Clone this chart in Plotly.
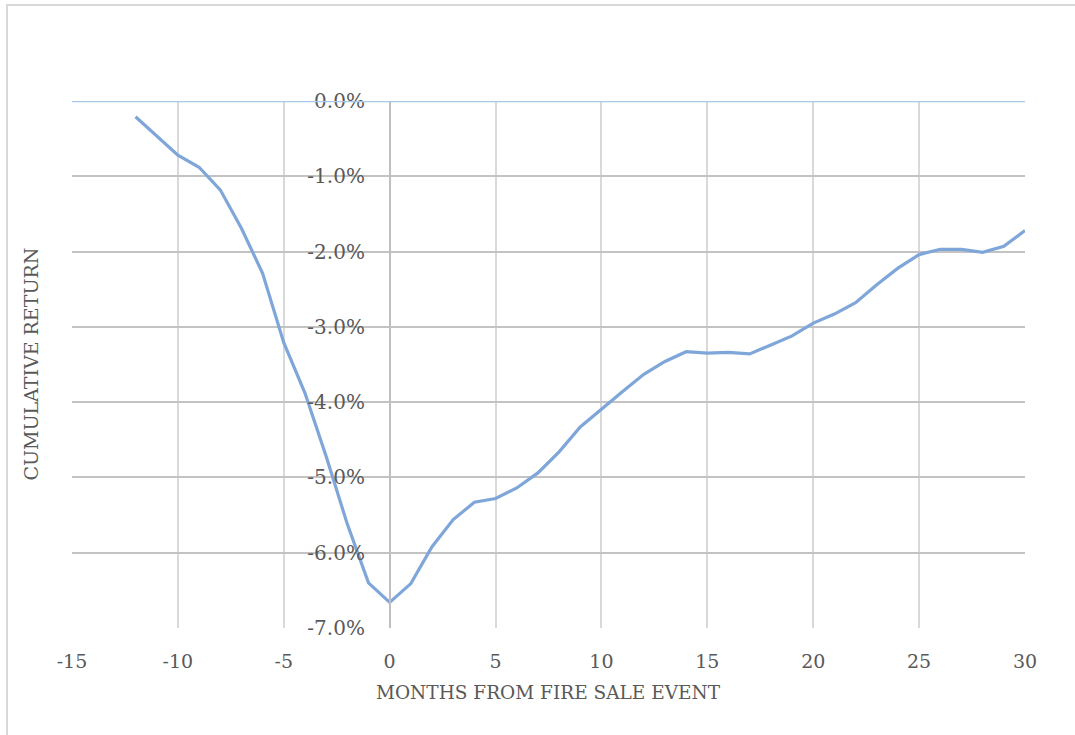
import plotly.graph_objects as go

months = list(range(-12, 31))
cum_return = [
    -0.21, -0.47, -0.72, -0.88, -1.18, -1.69, -2.29, -3.21, -3.88, -4.72, -5.62, -6.40,
    -6.66,
    -6.41, -5.92, -5.56, -5.33, -5.28, -5.14, -4.94, -4.66, -4.33, -4.09, -3.86, -3.63,
    -3.46, -3.33, -3.35, -3.34, -3.36, -3.24, -3.12, -2.95, -2.83, -2.68, -2.44, -2.22,
    -2.04, -1.97, -1.97, -2.01, -1.93, -1.72,
]
cum_return = [v / 100 for v in cum_return]

x_ticks = list(range(-15, 31, 5))
y_ticks = [-0.07, -0.06, -0.05, -0.04, -0.03, -0.02, -0.01, 0.0]
y_ticktext = [f"{v * 100:.1f}%".replace("-0.0", "0.0") for v in y_ticks]

FONT = "DejaVu Serif"
TXT = "#595959"

fig = go.Figure()
fig.add_trace(go.Scatter(
    x=months, y=cum_return, mode="lines",
    line=dict(color="#7FA6D9", width=3.2),
    showlegend=False, hoverinfo="skip",
))

x0, x1 = -15, 30
fig.update_layout(
    width=1075, height=735,
    margin=dict(l=72, r=50, t=101, b=107),
    paper_bgcolor="white", plot_bgcolor="white",
    font=dict(family=FONT, color=TXT, size=19),
    xaxis=dict(
        range=[x0, x1], tickvals=x_ticks, ticktext=[str(v) for v in x_ticks],
        showgrid=True, gridcolor="#D9D9D9", gridwidth=1.5,
        zeroline=False, showline=False, ticks="",
        tickfont=dict(family=FONT, size=19, color=TXT),
        ticklabelstandoff=20,
    ),
    yaxis=dict(
        range=[-0.07, 0.0], tickvals=y_ticks, ticktext=y_ticktext,
        showgrid=True, gridcolor="#C3C3C3", gridwidth=1.5,
        zeroline=False, showline=True, linecolor="#BFBFBF", linewidth=1.5,
        ticks="", anchor="free", position=(0 - x0) / (x1 - x0),
        tickfont=dict(family=FONT, size=20, color=TXT),
        ticklabelstandoff=20,
    ),
    annotations=[
        dict(text="MONTHS FROM FIRE SALE EVENT", xref="paper", yref="paper",
             x=0.5, y=-0.122, yanchor="middle", showarrow=False,
             font=dict(family=FONT, size=18.5, color=TXT)),
        dict(text="CUMULATIVE RETURN", xref="paper", yref="paper",
             x=-0.044, y=0.5, xanchor="center", showarrow=False, textangle=-90,
             font=dict(family=FONT, size=19, color=TXT)),
    ],
    shapes=[
        dict(type="line", xref="paper", yref="y", x0=0, x1=1, y0=0, y1=0,
             line=dict(color="#A9C8EA", width=2.5), layer="above"),
        dict(type="rect", xref="paper", yref="paper",
             x0=-65 / 953, x1=1.1, y0=-0.3, y1=(101 - 5) / 527 + 1,
             line=dict(color="#D9D9D9", width=2), layer="below"),
    ],
)

fig.write_html("out.html")
